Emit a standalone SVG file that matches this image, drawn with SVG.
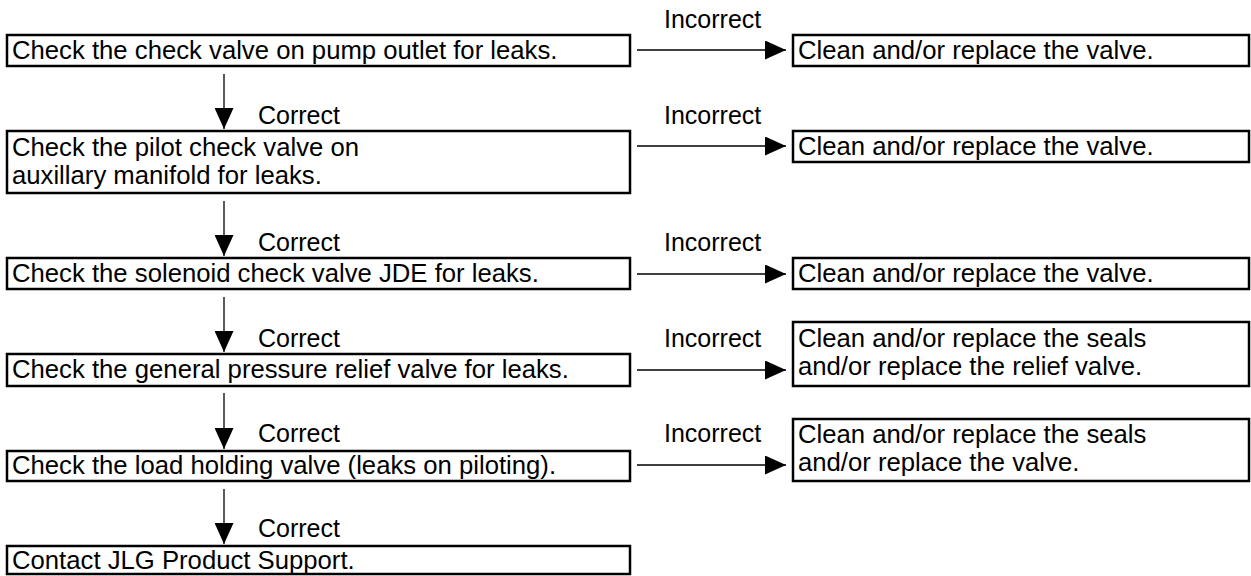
<svg xmlns="http://www.w3.org/2000/svg" width="1251" height="576" viewBox="0 0 1251 576">
<defs>
<style>
.box{fill:#fff;stroke:#000;stroke-width:2.5}
.t{font-family:"Liberation Sans",Arial,sans-serif;font-size:25px;fill:#000}
.b{font-size:25.7px}
.ln{stroke:#000;stroke-width:1.3;fill:none}
</style>
<marker id="ah" markerWidth="21" markerHeight="19" refX="21" refY="9.5" orient="auto" markerUnits="userSpaceOnUse">
<path d="M0,0 L21,9.5 L0,19 Z" fill="#000"/>
</marker>
</defs>
<rect width="1251" height="576" fill="#fff"/>
<g id="connectors">
<line class="ln" x1="637" y1="50" x2="786" y2="50" marker-end="url(#ah)"/>
<line class="ln" x1="637" y1="146" x2="786" y2="146" marker-end="url(#ah)"/>
<line class="ln" x1="637" y1="274" x2="786" y2="274" marker-end="url(#ah)"/>
<line class="ln" x1="637" y1="370" x2="786" y2="370" marker-end="url(#ah)"/>
<line class="ln" x1="637" y1="465" x2="786" y2="465" marker-end="url(#ah)"/>
<line class="ln" x1="224" y1="74" x2="224" y2="129" marker-end="url(#ah)"/>
<line class="ln" x1="224" y1="201" x2="224" y2="256" marker-end="url(#ah)"/>
<line class="ln" x1="224" y1="297" x2="224" y2="352" marker-end="url(#ah)"/>
<line class="ln" x1="224" y1="393" x2="224" y2="449" marker-end="url(#ah)"/>
<line class="ln" x1="224" y1="489" x2="224" y2="544" marker-end="url(#ah)"/>
<text class="t" x="664" y="28">Incorrect</text>
<text class="t" x="664" y="124">Incorrect</text>
<text class="t" x="664" y="251">Incorrect</text>
<text class="t" x="664" y="347">Incorrect</text>
<text class="t" x="664" y="442">Incorrect</text>
<text class="t" x="258" y="124">Correct</text>
<text class="t" x="258" y="251">Correct</text>
<text class="t" x="258" y="347">Correct</text>
<text class="t" x="258" y="442">Correct</text>
<text class="t" x="258" y="537">Correct</text>
</g>
<g id="n1"><rect class="box" x="7" y="35" width="623" height="31"/><text class="t b" x="12" y="59">Check the check valve on pump outlet for leaks.</text></g>
<g id="r1"><rect class="box" x="793" y="35" width="456" height="31"/><text class="t b" x="798" y="59">Clean and/or replace the valve.</text></g>
<g id="n2"><rect class="box" x="7" y="131" width="623" height="62"/><text class="t b" x="12" y="156">Check the pilot check valve on</text><text class="t b" x="12" y="184">auxillary manifold for leaks.</text></g>
<g id="r2"><rect class="box" x="793" y="131" width="456" height="31"/><text class="t b" x="798" y="155">Clean and/or replace the valve.</text></g>
<g id="n3"><rect class="box" x="7" y="258" width="623" height="31"/><text class="t b" x="12" y="282">Check the solenoid check valve JDE for leaks.</text></g>
<g id="r3"><rect class="box" x="793" y="258" width="456" height="31"/><text class="t b" x="798" y="282">Clean and/or replace the valve.</text></g>
<g id="n4"><rect class="box" x="7" y="354" width="623" height="32"/><text class="t b" x="12" y="378">Check the general pressure relief valve for leaks.</text></g>
<g id="r4"><rect class="box" x="793" y="322" width="456" height="64"/><text class="t b" x="798" y="347">Clean and/or replace the seals</text><text class="t b" x="798" y="375">and/or replace the relief valve.</text></g>
<g id="n5"><rect class="box" x="7" y="451" width="623" height="30"/><text class="t b" x="12" y="474">Check the load holding valve (leaks on piloting).</text></g>
<g id="r5"><rect class="box" x="793" y="419" width="456" height="62"/><text class="t b" x="798" y="443">Clean and/or replace the seals</text><text class="t b" x="798" y="471">and/or replace the valve.</text></g>
<g id="n6"><rect class="box" x="7" y="546" width="623" height="28"/><text class="t b" x="12" y="569">Contact JLG Product Support.</text></g>
</svg>
